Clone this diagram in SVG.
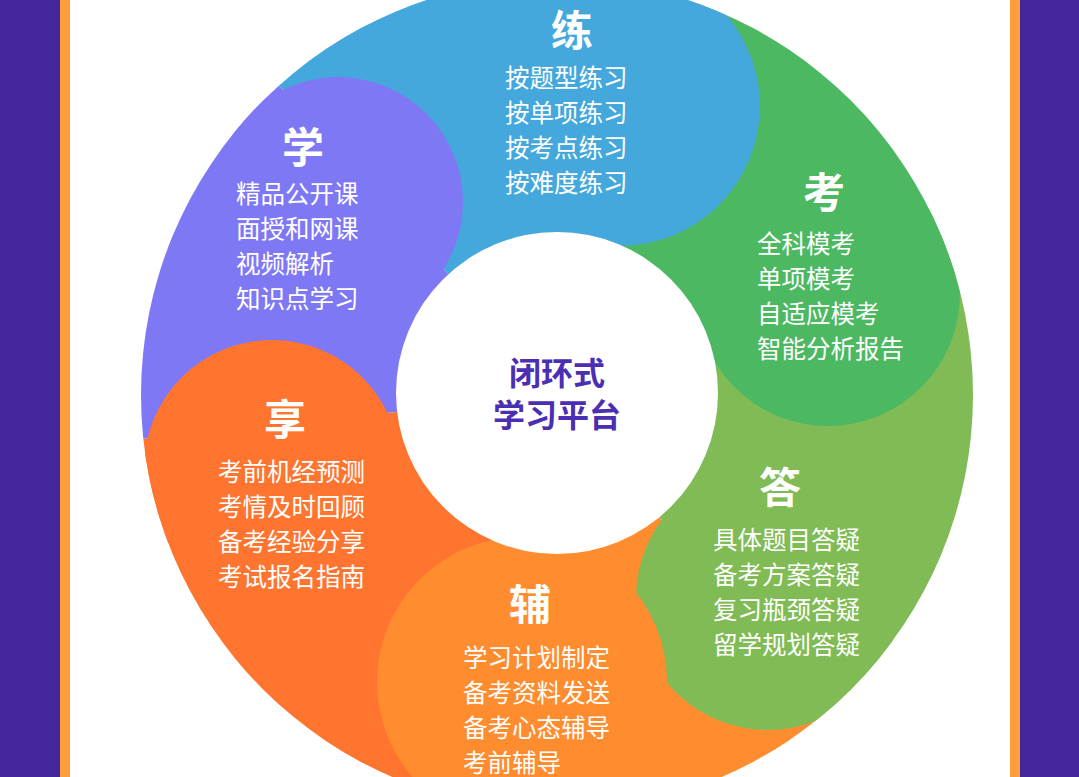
<svg xmlns="http://www.w3.org/2000/svg" width="1079" height="777" viewBox="0 0 1079 777">
<style>
.t{font-family:"Noto Sans CJK SC",sans-serif;fill:#fff;font-size:42px;font-weight:bold;text-anchor:middle}
.i{font-family:"Noto Sans CJK SC",sans-serif;fill:#fff;font-size:24.5px}
.c{font-family:"Noto Sans CJK SC",sans-serif;fill:#4a2fb3;font-size:32px;font-weight:bold;text-anchor:middle}
</style>
<defs><clipPath id="cp"><circle cx="557" cy="395" r="416"/></clipPath></defs>
<rect width="1079" height="777" fill="#43269b"/>
<rect x="60" width="960" height="777" fill="#ff9d3c"/>
<rect x="70" width="940" height="777" fill="#fff"/>
<g clip-path="url(#cp)">
<path d="M557 395L156 -51L762 -169Z" fill="#45a8dc"/>
<path d="M557 395L762 -169L1137 240Z" fill="#4db862"/>
<path d="M557 395L1137 240L943 855Z" fill="#80bb55"/>
<path d="M557 395L943 855L352 959Z" fill="#ff8c2e"/>
<path d="M557 395L352 959L-40 458Z" fill="#ff7530"/>
<path d="M557 395L-40 458L156 -51Z" fill="#7f78f5"/>
<circle cx="620" cy="106" r="140" fill="#45a8dc"/>
<circle cx="828" cy="294" r="132" fill="#4db862"/>
<circle cx="768" cy="598" r="132" fill="#80bb55"/>
<circle cx="522" cy="682" r="145" fill="#ff8c2e"/>
<circle cx="272" cy="468" r="128" fill="#ff7530"/>
<circle cx="338" cy="202" r="125" fill="#7f78f5"/>
</g>
<circle cx="557" cy="393" r="161" fill="#fff"/>
<g id="lian"><text class="t" x="572" y="46">练</text>
<text class="i" x="505" y="87">按题型练习</text><text class="i" x="505" y="122">按单项练习</text><text class="i" x="505" y="157">按考点练习</text><text class="i" x="505" y="192">按难度练习</text></g>
<g id="xue"><text class="t" x="303" y="163">学</text>
<text class="i" x="236" y="203">精品公开课</text><text class="i" x="236" y="238">面授和网课</text><text class="i" x="236" y="273">视频解析</text><text class="i" x="236" y="308">知识点学习</text></g>
<g id="kao"><text class="t" x="824" y="208">考</text>
<text class="i" x="757" y="253">全科模考</text><text class="i" x="757" y="288">单项模考</text><text class="i" x="757" y="323">自适应模考</text><text class="i" x="757" y="358">智能分析报告</text></g>
<g id="da"><text class="t" x="780" y="503">答</text>
<text class="i" x="713" y="549">具体题目答疑</text><text class="i" x="713" y="584">备考方案答疑</text><text class="i" x="713" y="619">复习瓶颈答疑</text><text class="i" x="713" y="654">留学规划答疑</text></g>
<g id="fu"><text class="t" x="530" y="620">辅</text>
<text class="i" x="463" y="667">学习计划制定</text><text class="i" x="463" y="702">备考资料发送</text><text class="i" x="463" y="737">备考心态辅导</text><text class="i" x="463" y="772">考前辅导</text></g>
<g id="xiang"><text class="t" x="285" y="435">享</text>
<text class="i" x="218" y="481">考前机经预测</text><text class="i" x="218" y="516">考情及时回顾</text><text class="i" x="218" y="551">备考经验分享</text><text class="i" x="218" y="586">考试报名指南</text></g>
<g id="center"><text class="c" x="557" y="385">闭环式</text><text class="c" x="557" y="427">学习平台</text></g>
<g id="connectors"/>
</svg>
